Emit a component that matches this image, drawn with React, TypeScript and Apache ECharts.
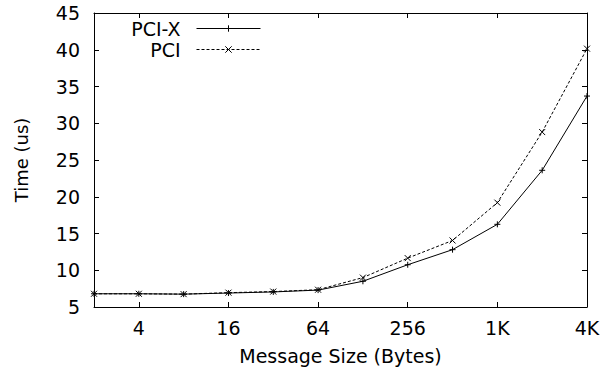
import React, { useEffect, useRef } from "react";
import * as echarts from "echarts";

const categories = ["2", "4", "8", "16", "32", "64", "128", "256", "512", "1K", "2K", "4K"];
const pcixValues = [6.8, 6.8, 6.75, 6.9, 7.05, 7.3, 8.5, 10.75, 12.8, 16.25, 23.6, 33.7];
const pciValues = [6.8, 6.8, 6.75, 6.95, 7.1, 7.35, 9.0, 11.65, 14.05, 19.2, 28.8, 40.15];
const seriesNames = ["PCI-X", "PCI"];
const yMin = 5;
const yMax = 45;
const yStep = 5;

const FONT = "DejaVu Sans";
const plusPath = "path://M0,5L10,5M5,0L5,10";
const crossPath = "path://M0,0L10,10M10,0L0,10";

export default function App() {
  const ref = useRef<HTMLDivElement>(null);
  useEffect(() => {
    if (!ref.current) return;
    const chart = echarts.init(ref.current, undefined, { renderer: "svg" });
    const showOdd = (i: number) => i % 2 === 1;
    const axisLine = { show: true, onZero: false, lineStyle: { color: "#000", width: 1 } };
    const legendBase = {
      orient: "vertical" as const,
      align: "right" as const,
      right: 352,
      itemWidth: 64,
      itemHeight: 8,
      padding: 0,
      textStyle: { fontFamily: FONT, fontSize: 19, color: "#000", padding: [0, 11, 0, 0] },
      itemStyle: { color: "#000", borderColor: "#000", borderWidth: 1 },
    };
    chart.setOption({
      animation: false,
      backgroundColor: "#fff",
      grid: { left: 94, right: 26, top: 13, bottom: 68, containLabel: false },
      legend: [
        { ...legendBase, top: 19, data: [seriesNames[0]], lineStyle: { width: 1, type: "solid", color: "#000" } },
        { ...legendBase, top: 40, data: [seriesNames[1]], lineStyle: { width: 1, type: [3, 2], color: "#000" } },
      ],
      xAxis: [
        {
          type: "category",
          data: categories,
          boundaryGap: false,
          position: "bottom",
          axisLine,
          axisTick: { show: true, inside: true, length: 5, interval: showOdd, lineStyle: { color: "#000" } },
          axisLabel: { interval: showOdd, fontFamily: FONT, fontSize: 19, color: "#000", margin: 11 },
          splitLine: { show: false },
          name: "Message Size (Bytes)",
          nameLocation: "middle",
          nameGap: 39,
          nameTextStyle: { fontFamily: FONT, fontSize: 19, color: "#000" },
        },
        {
          type: "category",
          data: categories,
          boundaryGap: false,
          position: "top",
          axisLine,
          axisTick: { show: true, inside: true, length: 5, interval: showOdd, lineStyle: { color: "#000" } },
          axisLabel: { show: false },
          splitLine: { show: false },
        },
      ],
      yAxis: [
        {
          type: "value",
          min: yMin,
          max: yMax,
          interval: yStep,
          position: "left",
          axisLine,
          axisTick: { show: true, inside: true, length: 5, lineStyle: { color: "#000" } },
          axisLabel: { fontFamily: FONT, fontSize: 19, color: "#000", margin: 14 },
          splitLine: { show: false },
          name: "Time (us)",
          nameLocation: "middle",
          nameRotate: 90,
          nameGap: 64,
          nameTextStyle: { fontFamily: FONT, fontSize: 18, color: "#000" },
        },
        {
          type: "value",
          min: yMin,
          max: yMax,
          interval: yStep,
          position: "right",
          axisLine,
          axisTick: { show: true, inside: true, length: 5, lineStyle: { color: "#000" } },
          axisLabel: { show: false },
          splitLine: { show: false },
        },
      ],
      series: [
        {
          name: seriesNames[0],
          type: "line",
          xAxisIndex: 0,
          yAxisIndex: 0,
          data: pcixValues,
          symbol: plusPath,
          symbolSize: 6,
          showAllSymbol: true,
          lineStyle: { color: "#000", width: 1, type: "solid" },
          itemStyle: { color: "#000", borderColor: "#000", borderWidth: 1 },
        },
        {
          name: seriesNames[1],
          type: "line",
          xAxisIndex: 0,
          yAxisIndex: 0,
          data: pciValues,
          symbol: crossPath,
          symbolSize: 6,
          showAllSymbol: true,
          lineStyle: { color: "#000", width: 1, type: [3, 2] },
          itemStyle: { color: "#000", borderColor: "#000", borderWidth: 1 },
        },
      ],
    });
    return () => chart.dispose();
  }, []);
  return (
    <div
      ref={ref}
      style={{ position: "fixed", left: 0, top: 0, width: 613, height: 375, background: "#fff" }}
    />
  );
}
